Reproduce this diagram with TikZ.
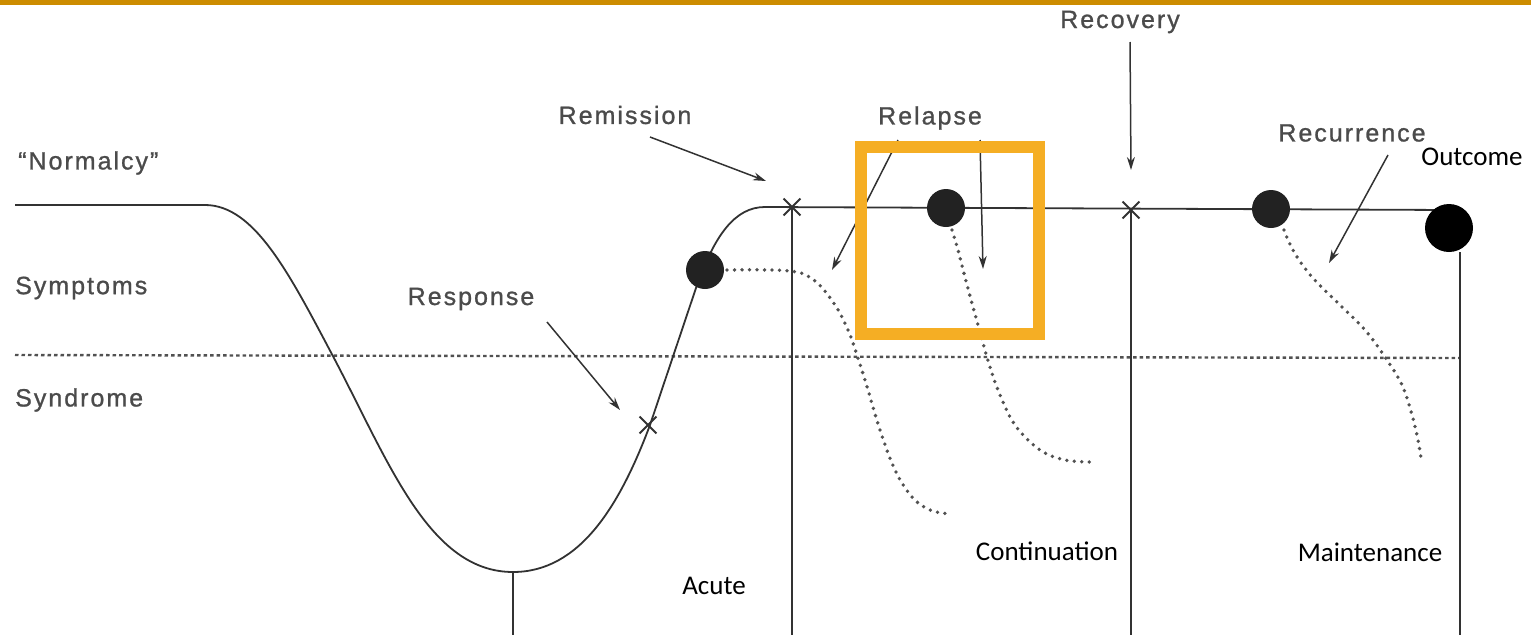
\documentclass[tikz,border=0pt]{standalone}
\usepackage{fontspec}
\usetikzlibrary{arrows.meta,shapes.misc}
\newfontfamily\scanfont[LetterSpace=8,FakeBold=1]{Liberation Sans}
\newfontfamily\labelfont{Carlito}
\definecolor{barorange}{RGB}{204,140,0}
\definecolor{boxorange}{RGB}{245,174,36}
\definecolor{inkc}{RGB}{50,50,50}
\definecolor{textc}{RGB}{75,75,75}
\definecolor{dotc}{RGB}{34,34,34}
\tikzset{
  ink/.style={draw=inkc, line width=1.8pt},
  dotline/.style={draw=inkc!85, line width=3.8pt, line cap=round, dash pattern=on 0pt off 7.5pt},
  syndline/.style={draw=inkc!85, line width=2.4pt, dash pattern=on 3.5pt off 3pt},
  gtext/.style={text=textc, font=\scanfont\fontsize{25}{28}\selectfont, inner sep=0pt},
  btext/.style={text=black, font=\labelfont\fontsize{27}{30}\selectfont, inner sep=0pt},
  evdot/.style={circle, fill=dotc, minimum width=38pt, minimum height=36pt, inner sep=0pt},
  xmark/.style={cross out, draw=inkc, line width=1.9pt, minimum size=15pt, inner sep=0pt},
  pointer/.style={ink, line width=1.5pt, -{Stealth[length=13pt, width=8pt]}},
}
\begin{document}
\begin{tikzpicture}[x=1pt, y=-1pt]
\useasboundingbox (0,0) rectangle (1531,635);
% top rule
\fill[barorange] (0,0) rectangle (1531,5);

% level labels
\node[gtext, anchor=west] (normal) at (18,163) {“Normalcy”};
\node[gtext, anchor=west] (sympt) at (15,288) {Symptoms};
\node[gtext, anchor=west] (syndr) at (15,400) {Syndrome};

% syndrome threshold
\coordinate (thrL) at (15,355);
\coordinate (thrR) at (1460,358);
\draw[syndline] (thrL) -- (thrR);

% course of the episode
\draw[ink] (15,205) -- (205,205)
  .. controls (255,205) and (290,275) .. (335,360)
  .. controls (390,465) and (430,572) .. (513,572)
  .. controls (580,572) and (620,505) .. (650,425)
  -- (697,285)
  .. controls (715,235) and (735,207) .. (765,207)
  -- (1450,210);

% phase boundaries
\coordinate (b0t) at (513,572);
\coordinate (b0b) at (513,635);
\coordinate (b1t) at (792,207);
\coordinate (b1b) at (792,635);
\coordinate (b2t) at (1131,210);
\coordinate (b2b) at (1131,635);
\coordinate (b3b) at (1460,635);
\draw[ink] (b0t) -- (b0b);
\draw[ink] (b1t) -- (b1b);
\draw[ink] (b2t) -- (b2b);

% relapse and recurrence courses
\draw[dotline] plot[smooth, tension=0.6] coordinates {
  (727,270) (790,271) (815,281) (835,305) (848,330) (857,355) (868,390)
  (880,430) (895,470) (912,497) (930,510) (950,514)};
\draw[dotline] plot[smooth, tension=0.6] coordinates {
  (952,230) (958,250) (967,285) (978,325) (987,357) (998,390) (1015,425)
  (1040,450) (1065,460) (1090,462)};
\draw[dotline] plot[smooth, tension=0.6] coordinates {
  (1284,230) (1294,252) (1312,277) (1340,305) (1365,330) (1385,357)
  (1402,385) (1412,415) (1418,440) (1421,458)};

% events on the course
\node[evdot] (dresp) at (705,270) {};
\node[evdot] (drel) at (946,208) {};
\node[evdot] (drec) at (1271,209) {};
\node[circle, fill=black, minimum size=48pt, inner sep=0pt] (dout) at (1449,228) {};
\draw[ink] (dout.south -| b3b) -- (b3b);

\node[xmark] (xresp) at (648,425) {};
\node[xmark] (xrem) at (792,207) {};
\node[xmark] (xrecov) at (1131,210) {};

% event labels and pointers
\node[gtext] (lrem) at (625,115) {Remission};
\coordinate (prem) at (766,181);
\draw[pointer] (650,137) -- (prem);

\node[gtext] (lresp) at (471,299) {Response};
\coordinate (presp) at (620,410);
\draw[pointer] (547,322) -- (presp);

\node[gtext] (lrel) at (930,118) {Relapse};
\coordinate (prelA) at (832,270);
\coordinate (prelB) at (983,269);
\draw[pointer] (898,140) -- (prelA);
\draw[pointer] (980,140) -- (prelB);

\node[gtext] (lrecov) at (1120,22) {Recovery};
\coordinate (precov) at (1131,170);
\draw[pointer] (1130,42) -- (precov);

\node[gtext] (lrecur) at (1352,133) {Recurrence};
\coordinate (precur) at (1329,263);
\draw[pointer] (1388,155) -- (precur);

% treatment phases
\node[btext] (acute) at (714,586) {Acute};
\node[btext] (cont) at (1047,551) {Continuation};
\node[btext] (maint) at (1370,552) {Maintenance};
\node[btext] (outc) at (1472,157) {Outcome};

% highlight frame
\draw[boxorange, line width=12pt] (861,147) rectangle (1039,334);
\end{tikzpicture}
\end{document}
